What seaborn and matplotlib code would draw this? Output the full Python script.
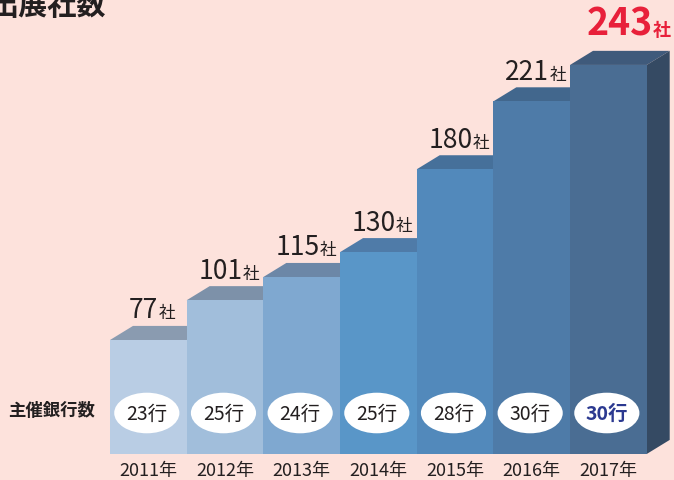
import numpy as np
import pandas as pd
import matplotlib
matplotlib.use("Agg")
import matplotlib.pyplot as plt
from matplotlib.patches import Polygon, Ellipse
from matplotlib.offsetbox import TextArea, HPacker, AnnotationBbox
import seaborn as sns

# ---- data ----
years = ["2011年", "2012年", "2013年", "2014年", "2015年", "2016年", "2017年"]
exhibitors = [77, 101, 115, 130, 180, 221, 243]
banks = [23, 25, 24, 25, 28, 30, 30]

front_colors = ["#b9cde4", "#a1bedb", "#7fa8d0", "#5996c8", "#5289bb", "#4e7ba8", "#4a6d93"]
top_colors = ["#8a9bb0", "#7d91a9", "#6c87a7", "#4f7ba8", "#46709a", "#42678d", "#3f5a7b"]
side_color = "#354a63"
bg = "#fde2dc"
ink = "#231f20"

sns.set_theme(style="white")
plt.rcParams["font.family"] = ["Noto Sans CJK JP", "DejaVu Sans"]

df = pd.DataFrame({"year": years, "count": exhibitors})

fig = plt.figure(figsize=(6.74, 4.81), dpi=100)
fig.patch.set_facecolor(bg)
W, H = 674, 481
ax = fig.add_axes([110 / W, 1 - 455 / H, (672 - 110) / W, 455 / H])
ax.set_facecolor(bg)

sns.barplot(data=df, x="year", y="count", hue="year", palette=front_colors,
            width=1.0, legend=False, ax=ax, saturation=1, zorder=2,
            linewidth=0, edgecolor="none")

base = 8.2
dx, dy = 0.3, 8.5
ax.set_xlim(-0.5, 6.5 + dx + 0.03)
ax.set_ylim(base, base + 455 / 1.657)

# 3D top faces
for i, v in enumerate(exhibitors):
    x0, x1 = i - 0.5, i + 0.5
    ax.add_patch(Polygon([(x0, v), (x0 + dx, v + dy), (x1 + dx, v + dy), (x1, v)],
                         closed=True, facecolor=top_colors[i], edgecolor="none", zorder=1))

# side face of the last bar
last = len(exhibitors) - 1
xr = last + 0.5
ax.add_patch(Polygon([(xr, base), (xr + dx, base + dy), (xr + dx, exhibitors[last] + dy),
                      (xr, exhibitors[last])],
                     closed=True, facecolor=side_color, edgecolor="none", zorder=1))

# value labels (number + 社)
for i, v in enumerate(exhibitors):
    if i == last:
        num = TextArea(str(v), textprops=dict(fontsize=27, fontweight="bold", color="#e8203a"))
        unit = TextArea("社", textprops=dict(fontsize=13, fontweight="bold", color="#e8203a"))
        xoff, yoff = 0.27, dy + 5
    else:
        num = TextArea(str(v), textprops=dict(fontsize=19, color=ink))
        unit = TextArea("社", textprops=dict(fontsize=12, color=ink))
        xoff, yoff = 0.05, dy + 1.5
    box = HPacker(children=[num, unit], align="baseline", pad=0, sep=0)
    ab = AnnotationBbox(box, (i + xoff, v + yoff), box_alignment=(0.5, 0.0),
                        frameon=False, pad=0, zorder=5)
    ax.add_artist(ab)

# host bank ellipses
ell_y = base + (455 - 414) / 1.657
for i, b in enumerate(banks):
    ax.add_patch(Ellipse((i - 0.02, ell_y), 0.85, 24.5, facecolor="white",
                         edgecolor="none", zorder=4))
    if i == last:
        ax.text(i - 0.02, ell_y, f"{b}行", ha="center", va="center", fontsize=14,
                fontweight="bold", color="#2b3990", zorder=5)
    else:
        ax.text(i - 0.02, ell_y, f"{b}行", ha="center", va="center", fontsize=14,
                color=ink, zorder=5)

fig.text(8 / W, 1 - 411 / H, "主催銀行数", ha="left", va="center", fontsize=12.5,
         fontweight="bold", color=ink)
fig.text(-11 / W, 1 - 6 / H, "出展社数", ha="left", va="center", fontsize=21,
         fontweight="bold", color=ink)

ax.set_xlabel("")
ax.set_ylabel("")
ax.set_yticks([])
ax.set_xticks(range(len(years)))
ax.set_xticklabels(years, fontsize=13, color=ink)
ax.tick_params(axis="x", length=0, pad=5)
for s in ax.spines.values():
    s.set_visible(False)

fig.savefig("out.png", dpi=100, facecolor=bg)
